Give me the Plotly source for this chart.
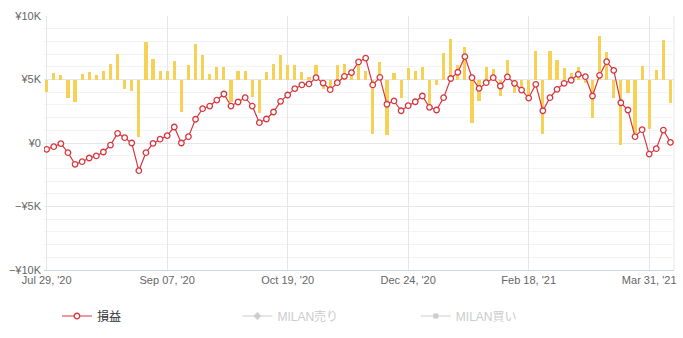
import plotly.graph_objects as go

# P&L line (yen)
pnl = [-500, -290, -50, -760, -1680, -1470, -1180, -1020, -710, -160,
       760, 420, 0, -2180, -760, -30, 300, 580, 1260, 0,
       500, 1870, 2700, 2910, 3380, 3860, 2910, 3230, 3570, 2910,
       1600, 1890, 2440, 3280, 3780, 4280, 4570, 4650, 5140, 4720,
       4200, 4750, 5250, 5540, 6380, 6690, 4570, 5170, 3050, 3310,
       2540, 2940, 3250, 3700, 2810, 2600, 3570, 5080, 5570, 6800,
       5140, 4300, 4750, 5140, 4490, 5200, 4700, 4170, 3540, 4620,
       2540, 3570, 4230, 4700, 4940, 5410, 5220, 3700, 5330, 6400,
       5720, 3170, 2600, 500, 1050, -870, -450, 1020, 50]

# bar series (change, drawn from the ¥5K baseline)
bars = [-1020, 550, 370, -1420, -1810, 470, 630, 370, 680, 1200,
        1970, -710, -900, -4490, 2990, 1600, 680, 680, 1420, -2550,
        1130, 2830, 1910, 470, 1020, 1020, -1760, 680, 680, -1400,
        -2640, 630, 1200, 1900, 1120, 1120, 630, 160, 1120, -760,
        -600, 1120, 1200, 650, 1500, 700, -4330, 1340, -4390, 500,
        -1480, 870, 700, 1020, -1900, -400, 2060, 3160, 1180, 2580,
        -3450, -1700, 1020, 850, -1320, 1570, -1090, -910, -1580, 2250,
        -4330, 2260, 1500, 930, 520, 1020, -240, -3060, 3460, 2180,
        -1420, -5170, -1080, -4200, 1070, -3860, 780, 3080, -1880]
bar_base = 5000

tick_idx = [0, 17, 34, 51, 68, 85]
tick_text = ["Jul 29, '20", "Sep 07, '20", "Oct 19, '20", "Dec 24, '20", "Feb 18, '21", "Mar 31, '21"]
y_ticks = [-10000, -5000, 0, 5000, 10000]
y_text = ["\u2212\u00a510K", "\u2212\u00a55K", "\u00a50", "\u00a55K", "\u00a510K"]

x = list(range(len(pnl)))

fig = go.Figure()
fig.add_trace(go.Bar(x=x, y=bars, base=[bar_base] * len(bars), width=0.45,
                     marker=dict(color="#f7d156", line=dict(width=0)),
                     showlegend=False))
fig.add_trace(go.Scatter(x=x, y=pnl, mode="lines+markers", name="損益",
                         legend="legend",
                         line=dict(color="#d9363e", width=1.2),
                         marker=dict(symbol="circle", size=5.5, color="white",
                                     line=dict(color="#d9363e", width=1.3))))
fig.add_trace(go.Scatter(x=[None], y=[None], mode="lines+markers",
                         name="MILAN売り", legend="legend2",
                         line=dict(color="#cccccc", width=1.2),
                         marker=dict(symbol="diamond", size=6, color="#cccccc")))
fig.add_trace(go.Scatter(x=[None], y=[None], mode="lines+markers",
                         name="MILAN買い", legend="legend3",
                         line=dict(color="#cccccc", width=1.2),
                         marker=dict(symbol="square", size=5, color="#cccccc")))

font_family = "Liberation Sans, Arial, Noto Sans CJK JP, sans-serif"
PW = 632.0
leg_y = -(316 - 270) / 254


def leg(px, color):
    return dict(orientation="h", x=(px - 44) / PW, xanchor="left",
                y=leg_y, yanchor="middle",
                font=dict(size=12, color=color),
                bgcolor="rgba(0,0,0,0)")


fig.update_layout(
    width=683, height=338,
    margin=dict(l=44, r=7, t=16, b=68),
    paper_bgcolor="white", plot_bgcolor="white",
    font=dict(family=font_family, size=11, color="#666666"),
    bargap=0,
    legend=leg(57, "#333333"),
    legend2=leg(238, "#cccccc"),
    legend3=leg(417, "#cccccc"),
    shapes=[dict(type="line", xref="paper", yref="paper", x0=1, x1=1, y0=0, y1=1,
                 line=dict(color="#e6e6e6", width=1), layer="below")],
    xaxis=dict(range=[-0.38, 88.5], tickmode="array", tickvals=tick_idx,
               ticktext=tick_text, showgrid=True, gridcolor="#e6e6e6",
               gridwidth=1, zeroline=False, showline=True, linecolor="#ccd6eb",
               ticks="", tickfont=dict(size=11, color="#666666")),
    yaxis=dict(range=[-10000, 10000], tickmode="array", tickvals=y_ticks,
               ticktext=y_text, showgrid=True, gridcolor="#e6e6e6",
               zeroline=False, ticks="", ticklabelstandoff=2,
               tickfont=dict(size=11, color="#666666"),
               minor=dict(dtick=1000, showgrid=True, gridcolor="#f3f3f3")),
)

fig.write_html("out.html")
